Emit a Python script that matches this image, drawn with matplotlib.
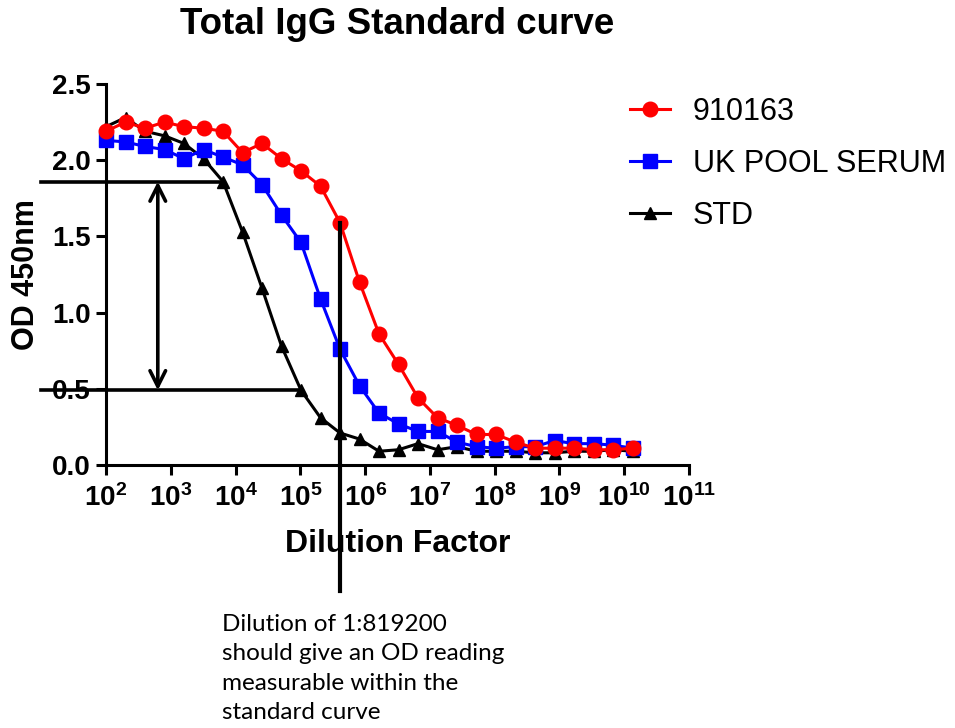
import numpy as np
import matplotlib
matplotlib.use('Agg')
import matplotlib.pyplot as plt

plt.rcParams['font.family'] = ['Liberation Sans', 'DejaVu Sans']
plt.rcParams['mathtext.fontset'] = 'custom'
plt.rcParams['mathtext.rm'] = 'Liberation Sans'
plt.rcParams['mathtext.bf'] = 'Liberation Sans:bold'

# Two-fold serial dilutions
dilution = [100, 200, 400, 800, 1600, 3200, 6400, 12800, 25600, 51200,
            102400, 204800, 409600, 819200, 1638400, 3276800, 6553600,
            13107200, 26214400, 52428800, 104857600, 209715200, 419430400,
            838860800, 1677721600, 3355443200, 6710886400, 13421772800]

# OD 450nm readings
od_910163 = [2.19, 2.25, 2.21, 2.25, 2.22, 2.21, 2.19, 2.05, 2.11, 2.01,
             1.93, 1.83, 1.59, 1.20, 0.86, 0.66, 0.44, 0.31, 0.26, 0.20,
             0.20, 0.15, 0.11, 0.11, 0.11, 0.10, 0.10, 0.11]
od_uk_pool = [2.13, 2.12, 2.09, 2.07, 2.01, 2.07, 2.02, 1.97, 1.84, 1.64,
              1.46, 1.09, 0.76, 0.52, 0.34, 0.27, 0.22, 0.22, 0.15, 0.12,
              0.11, 0.12, 0.12, 0.16, 0.14, 0.14, 0.13, 0.11]
od_std = [2.22, 2.28, 2.19, 2.16, 2.11, 2.01, 1.86, 1.53, 1.16, 0.78,
          0.49, 0.31, 0.21, 0.17, 0.09, 0.10, 0.14, 0.10, 0.12, 0.09,
          0.09, 0.09, 0.08, 0.08, 0.09, 0.09, 0.10, 0.09]

fig = plt.figure(figsize=(9.55, 7.28), dpi=100)
ax = fig.add_axes([0.111, 0.3613, 0.6105, 0.5233])

l_std, = ax.plot(dilution, od_std, color='black', marker='^', ms=9, lw=2.2, label='STD', zorder=3, clip_on=False)
l_uk, = ax.plot(dilution, od_uk_pool, color='#0000ff', marker='s', ms=9.5, lw=2.2, label='UK POOL SERUM', zorder=4, clip_on=False)
l_red, = ax.plot(dilution, od_910163, color='#ff0000', marker='o', ms=10.5, lw=2.2, label='910163', zorder=5, clip_on=False)

ax.set_xscale('log')
ax.set_xlim(1e2, 1e11)
ax.set_ylim(0, 2.5)
ax.set_yticks([0, 0.5, 1.0, 1.5, 2.0, 2.5])
ax.set_yticklabels(['0.0', '0.5', '1.0', '1.5', '2.0', '2.5'], fontweight='bold', fontsize=20)
xt = [10.0 ** k for k in range(2, 12)]
ax.set_xticks(xt)
ax.set_xticklabels([r'$\mathbf{10^{%d}}$' % k for k in range(2, 12)], fontsize=20)

for s in ['top', 'right']:
    ax.spines[s].set_visible(False)
for s in ['left', 'bottom']:
    ax.spines[s].set_linewidth(2.2)
ax.tick_params(axis='both', which='major', width=2.2, length=7, direction='out')
ax.tick_params(axis='x', which='minor', width=1.6, length=4)
ax.tick_params(axis='x', pad=7)
ax.tick_params(axis='y', pad=4)

ax.set_title('Total IgG Standard curve', fontsize=26.5, fontweight='bold', pad=36)
ax.set_xlabel('Dilution Factor', fontsize=23, fontweight='bold', labelpad=12)
ax.set_ylabel('OD 450nm', fontsize=22, fontweight='bold', labelpad=8)

# annotation lines
ax.plot([10, 6400], [1.86, 1.86], color='black', lw=2.6, clip_on=False, zorder=6)
ax.plot([10, 102400], [0.49, 0.49], color='black', lw=2.6, clip_on=False, zorder=6)
ax.annotate('', xy=(630, 0.49), xytext=(630, 1.86),
            arrowprops=dict(arrowstyle='<->', lw=2.6, color='black', mutation_scale=28,
                            shrinkA=0, shrinkB=0), annotation_clip=False)
ax.plot([409600, 409600], [1.59, -0.83], color='black', lw=3, clip_on=False, zorder=7)

fig.text(0.2325, 0.157, 'Dilution of 1:819200\nshould give an OD reading\nmeasurable within the\nstandard curve',
         fontsize=17.5, family='Lato', va='top', ha='left', linespacing=1.5)

fig.legend(handles=[l_red, l_uk, l_std], loc='upper left', bbox_to_anchor=(0.631, 0.905),
           frameon=False, fontsize=22, handlelength=1.3, handletextpad=0.75, labelspacing=0.72)

plt.savefig('out.png', dpi=100)
